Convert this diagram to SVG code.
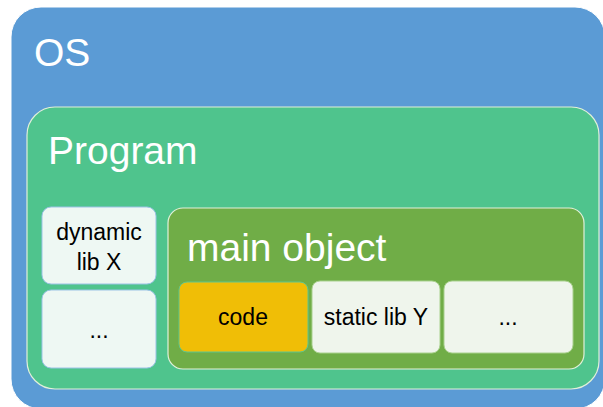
<svg xmlns="http://www.w3.org/2000/svg" width="603" height="407" viewBox="0 0 603 407">
<style>
.title{font-family:"Liberation Sans",Arial,sans-serif;font-size:39px;fill:#ffffff}
.lbl{font-family:"Liberation Sans",Arial,sans-serif;font-size:23px;fill:#000000;text-anchor:middle}
.light{fill:#EEF8F3;stroke:#9CC3E6;stroke-width:1}
.light2{fill:#EFF5EC;stroke:#A9D18E;stroke-width:1}
</style>
<rect width="603" height="407" fill="#ffffff"/>
<g id="os">
<rect x="11" y="7" width="594" height="402" rx="30" fill="#5B9BD5" stroke="#ffffff" stroke-width="1"/>
<text class="title" x="34" y="66">OS</text>
</g>
<g id="program">
<rect x="27" y="107" width="572" height="282" rx="28" fill="#4FC48D" stroke="#E2F0D9" stroke-width="1.2"/>
<text class="title" x="48" y="164">Program</text>
</g>
<g id="dynlib">
<rect class="light" x="42" y="207" width="114" height="77" rx="9"/>
<text class="lbl" x="99" y="240">dynamic</text>
<text class="lbl" x="99" y="270">lib X</text>
</g>
<g id="dyn-more">
<rect class="light" x="42" y="290" width="114" height="78" rx="9" stroke="#CDEBE0"/>
<text class="lbl" x="99" y="338">...</text>
</g>
<g id="main">
<rect x="168" y="208" width="416" height="161" rx="15" fill="#70AD47" stroke="#E2F0D9" stroke-width="1.2"/>
<text class="title" x="187" y="261">main object</text>
</g>
<g id="code">
<rect x="179" y="282" width="129" height="70" rx="8" fill="#F0BE06" stroke="#5EC68F" stroke-width="1"/>
<text class="lbl" x="243" y="325">code</text>
</g>
<g id="staticlib">
<rect class="light2" x="312" y="281" width="128" height="72" rx="8"/>
<text class="lbl" x="376" y="325">static lib Y</text>
</g>
<g id="main-more">
<rect class="light2" x="444" y="281" width="129" height="72" rx="8"/>
<text class="lbl" x="508" y="325">...</text>
</g>
<g id="connectors"></g>
</svg>
